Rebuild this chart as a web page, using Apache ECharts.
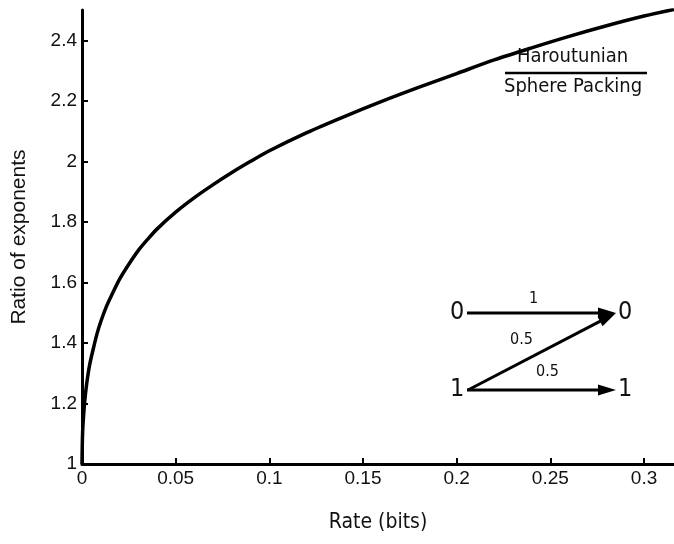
<!DOCTYPE html>
<html>
<head>
<meta charset="utf-8">
<script src="https://cdn.jsdelivr.net/npm/echarts@6/dist/echarts.min.js"></script>
<style>
html,body{margin:0;padding:0;background:#fff;}
#chart{width:674px;height:544px;}
</style>
</head>
<body>
<div id="chart"></div>
<script>
// Data
const rate  = [0, 0.0003, 0.0008, 0.0015, 0.0025, 0.004, 0.006, 0.008, 0.01, 0.013, 0.016, 0.02, 0.025, 0.03, 0.035, 0.04, 0.05, 0.06, 0.07, 0.08, 0.09, 0.1, 0.12, 0.14, 0.16, 0.18, 0.2, 0.22, 0.24, 0.26, 0.28, 0.3, 0.316];
const ratio = [1.0, 1.10, 1.155, 1.21, 1.265, 1.325, 1.38, 1.43, 1.47, 1.52, 1.56, 1.61, 1.66, 1.705, 1.742, 1.776, 1.832, 1.88, 1.923, 1.963, 2.0, 2.035, 2.095, 2.148, 2.198, 2.245, 2.29, 2.335, 2.375, 2.413, 2.448, 2.48, 2.502];
const xTicks = [0, 0.05, 0.1, 0.15, 0.2, 0.25, 0.3];
const yTicks = [1, 1.2, 1.4, 1.6, 1.8, 2, 2.2, 2.4];
const xLabel = 'Rate (bits)';
const yLabel = 'Ratio of exponents';
const fracTop = 'Haroutunian';
const fracBottom = 'Sphere Packing';

const chart = echarts.init(document.getElementById('chart'), null, {renderer: 'canvas'});
const tickFont = '"Liberation Sans", Arial, sans-serif';
const annFont = '"DejaVu Sans Condensed", "DejaVu Sans", sans-serif';

chart.setOption({
  animation: false,
  backgroundColor: '#fff',
  grid: {left: 82, right: 0, top: 10, bottom: 80, containLabel: false},
  xAxis: {
    type: 'value', min: 0, max: 0.316,
    name: xLabel, nameLocation: 'middle', nameGap: 48,
    nameTextStyle: {fontFamily: annFont, fontSize: 21, color: '#111'},
    axisLine: {show: true, onZero: false, lineStyle: {color: '#000', width: 3}},
    axisTick: {show: true, inside: true, length: 6, lineStyle: {color: '#000', width: 2}, customValues: xTicks},
    axisLabel: {customValues: xTicks, fontFamily: tickFont, fontSize: 19, color: '#111', margin: 5,
      formatter: v => String(v)},
    splitLine: {show: false}
  },
  yAxis: {
    type: 'value', min: 1, max: 2.5,
    name: yLabel, nameLocation: 'middle', nameGap: 52, nameRotate: 90,
    nameTextStyle: {fontFamily: tickFont, fontSize: 21, color: '#111'},
    axisLine: {show: true, onZero: false, lineStyle: {color: '#000', width: 3}},
    axisTick: {show: true, inside: true, length: 6, lineStyle: {color: '#000', width: 2}, customValues: yTicks},
    axisLabel: {customValues: yTicks, fontFamily: tickFont, fontSize: 19, color: '#111', margin: 5,
      formatter: v => String(v)},
    splitLine: {show: false}
  },
  series: [{
    type: 'line',
    data: rate.map((r, i) => [r, ratio[i]]),
    showSymbol: false,
    smooth: 0.3,
    lineStyle: {color: '#000', width: 3.5},
    clip: true
  }]
});

// Annotations (fraction and channel diagram), placed in pixels
const g = [];
g.push({type: 'text', left: 517, top: 47, style: {text: fracTop, font: '20px ' + annFont, fill: '#111'}});
g.push({type: 'line', shape: {x1: 505, y1: 73, x2: 647, y2: 73}, style: {stroke: '#000', lineWidth: 2.5}});
g.push({type: 'text', left: 504, top: 77, style: {text: fracBottom, font: '20px ' + annFont, fill: '#111'}});

function arrow(x1, y1, x2, y2) {
  const ang = Math.atan2(y2 - y1, x2 - x1);
  const L = 18, W = 5.5;
  const bx = x2 - L * Math.cos(ang), by = y2 - L * Math.sin(ang);
  const nx = -Math.sin(ang), ny = Math.cos(ang);
  g.push({type: 'line', shape: {x1: x1, y1: y1, x2: bx + 2 * Math.cos(ang), y2: by + 2 * Math.sin(ang)}, style: {stroke: '#000', lineWidth: 3}});
  g.push({type: 'polygon', shape: {points: [[x2, y2], [bx + nx * W, by + ny * W], [bx - nx * W, by - ny * W]]}, style: {fill: '#000'}});
}
arrow(467, 313, 616, 313);
arrow(468, 390, 616, 313);
arrow(467, 390, 616, 390);
const bigFont = '25px ' + annFont;
const smallFont = '16px ' + annFont;
g.push({type: 'text', left: 450, top: 300, style: {text: '0', font: bigFont, fill: '#111'}});
g.push({type: 'text', left: 618, top: 300, style: {text: '0', font: bigFont, fill: '#111'}});
g.push({type: 'text', left: 450, top: 377, style: {text: '1', font: bigFont, fill: '#111'}});
g.push({type: 'text', left: 618, top: 377, style: {text: '1', font: bigFont, fill: '#111'}});
g.push({type: 'text', left: 529, top: 291, style: {text: '1', font: smallFont, fill: '#111'}});
g.push({type: 'text', left: 510, top: 332, style: {text: '0.5', font: smallFont, fill: '#111'}});
g.push({type: 'text', left: 536, top: 364, style: {text: '0.5', font: smallFont, fill: '#111'}});
chart.setOption({graphic: g});
</script>
</body>
</html>
